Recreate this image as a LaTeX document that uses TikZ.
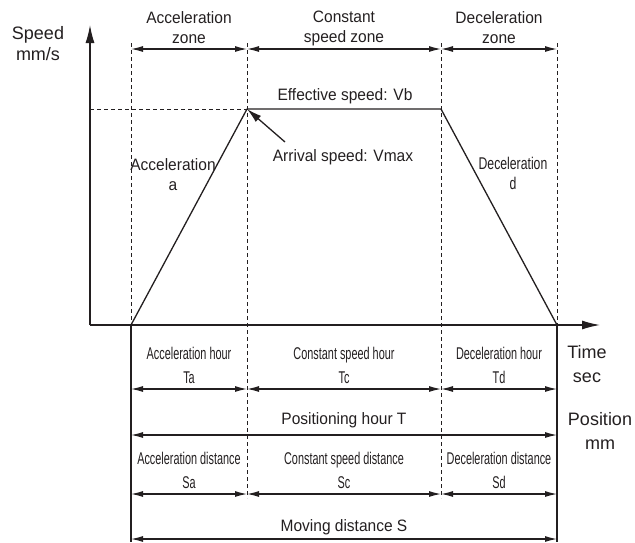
\documentclass[tikz,border=0pt]{standalone}
\usepackage{fontspec}
\setmainfont{Liberation Sans}[FakeStretch=0.94]
\newfontfamily\condfont{Liberation Sans}[FakeStretch=0.64]
\newfontfamily\semicondfont{Liberation Sans}[FakeStretch=0.72]
\newfontfamily\sidefont{Liberation Sans}
\usetikzlibrary{arrows.meta}
\definecolor{MotionInk}{RGB}{35,31,32}

\begin{document}
\begin{tikzpicture}[x=1pt,y=-1pt,line join=round,
  every node/.style={text=MotionInk,font=\fontsize{16.5}{20}\selectfont,align=center,inner sep=0pt},
  axis/.style={draw=MotionInk,line width=1.3pt,-{Latex[length=18pt,width=9pt]}},
  dim/.style={draw=MotionInk,line width=1.1pt,{Latex[length=12pt,width=6pt]}-{Latex[length=12pt,width=6pt]}},
  guide/.style={draw=MotionInk,line width=1pt,dash pattern=on 4pt off 3pt},
  prof/.style={draw=MotionInk,line width=1.3pt},
  side/.style={font=\sidefont\fontsize{18}{24}\selectfont},
  cond/.style={font=\condfont\fontsize{17}{24}\selectfont}]
\useasboundingbox (0,0) rectangle (635,542);
% axes
\coordinate (o) at (90,325);
\coordinate (ytip) at (90,25);
\coordinate (xtip) at (600,325);
\draw[axis] (o) -- (ytip);
\draw[axis] (o) -- (xtip);
\node[side,font=\sidefont\fontsize{18}{21}\selectfont] (n0) at (38,44) {Speed\\mm/s};
\node[side] (n1) at (587,364) {Time\\sec};
\node[side] (n2) at (600,431) {Position\\mm};
% speed profile
\coordinate (p0) at (131,325);
\coordinate (p1) at (247,109);
\coordinate (p2) at (441,109);
\coordinate (p3) at (557,325);
\draw[prof] (p0) -- (p1) -- (p2) -- (p3);
\draw[guide] (o |- p1) -- (p1);
% zone borders
\foreach \i/\x/\e in {0/131/325,1/247/498,2/441/498,3/557/325} {
   \coordinate (t\i) at (\x,43);
   \draw[guide] (t\i) -- (\x,\e);
}
\draw[prof] (p0) -- (p0 |- 0,542);
\draw[prof] (p3) -- (p3 |- 0,542);
% dimension arrows
\foreach \a/\b in {0/1,1/2,2/3} {
   \foreach \y in {49,389,494} {
      \draw[dim] (t\a |- 0,\y) -- (t\b |- 0,\y);
   }
}
\draw[dim] (t0 |- 0,435) -- (t3 |- 0,435);
\draw[dim] (t0 |- 0,539) -- (t3 |- 0,539);
% labels
\node (n3) at (189,28) {Acceleration\\zone};
\node (n4) at (344,28) {Constant\\speed zone};
\node (n5) at (499,28) {Deceleration\\zone};
\node (n6) at (345,96) {Effective speed: Vb};
\node (n7) at (343,157) {Arrival speed: Vmax};
\node (n8) at (173,175) {Acceleration\\a};
\node[font=\semicondfont\fontsize{17}{20}\selectfont] (n9) at (513,173) {Deceleration\\d};
\node[cond] (n10) at (189,365) {Acceleration hour\\Ta};
\node[cond] (n11) at (344,365) {Constant speed hour\\Tc};
\node[cond] (n12) at (499,365) {Deceleration hour\\Td};
\node (n13) at (344,420) {Positioning hour T};
\node[cond] (n14) at (189,470) {Acceleration distance\\Sa};
\node[cond] (n15) at (344,470) {Constant speed distance\\Sc};
\node[cond] (n16) at (499,470) {Deceleration distance\\Sd};
\node (n17) at (344,527) {Moving distance S};
\coordinate (atail) at (285,142);
\draw[prof,-{Latex[length=15pt,width=8pt]}] (atail) -- (p1);
\end{tikzpicture}
\end{document}
